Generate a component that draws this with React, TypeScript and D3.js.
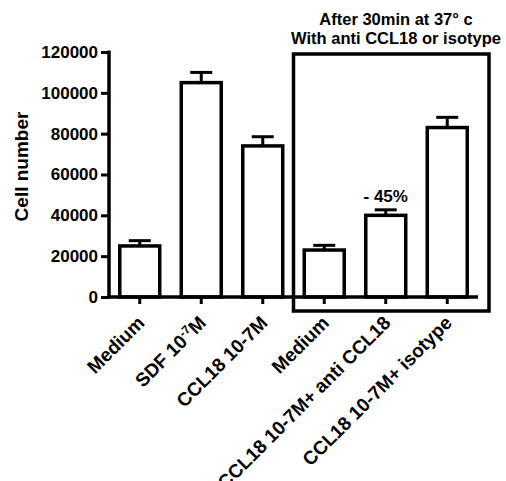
import React, { useEffect, useRef } from "react";
import * as d3 from "d3";

const categories = [
  "Medium",
  "SDF",
  "CCL18 10-7M",
  "Medium ",
  "CCL18 10-7M+ anti CCL18",
  "CCL18 10-7M+ isotype",
];
const cellNumber = [25000, 105000, 74000, 23000, 40000, 83000];
const cellError = [2600, 5000, 4500, 2300, 2700, 5000];
const yTicks = [0, 20000, 40000, 60000, 80000, 100000, 120000];

const FONT = "'Liberation Sans', Arial, sans-serif";

const App = () => {
  const ref = useRef<SVGSVGElement>(null);

  useEffect(() => {
    const svg: any = d3.select(ref.current);
    svg.selectAll("*").remove();

    const left = 109;
    const right = 478;
    const bottom = 297;
    const top = 52;

    const x = d3.scaleBand().domain(categories).range([left, right]).paddingInner(0.35).paddingOuter(0.175);
    const y = d3.scaleLinear().domain([0, 120000]).range([bottom, top]);

    // bars
    svg
      .selectAll(".bar")
      .data(cellNumber)
      .enter()
      .append("rect")
      .attr("x", (d: number, i: number) => x(categories[i]))
      .attr("y", (d: number) => y(d))
      .attr("width", x.bandwidth())
      .attr("height", (d: number) => y(0) - y(d))
      .attr("fill", "#fff")
      .attr("stroke", "#000")
      .attr("stroke-width", 3.5);

    // error bars
    const cap = 11;
    const eb = svg.selectAll(".err").data(cellNumber).enter().append("g");
    eb.append("line")
      .attr("x1", (d: number, i: number) => x(categories[i])! + x.bandwidth() / 2)
      .attr("x2", (d: number, i: number) => x(categories[i])! + x.bandwidth() / 2)
      .attr("y1", (d: number) => y(d))
      .attr("y2", (d: number, i: number) => y(d + cellError[i]))
      .attr("stroke", "#000")
      .attr("stroke-width", 3);
    eb.append("line")
      .attr("x1", (d: number, i: number) => x(categories[i])! + x.bandwidth() / 2 - cap)
      .attr("x2", (d: number, i: number) => x(categories[i])! + x.bandwidth() / 2 + cap)
      .attr("y1", (d: number, i: number) => y(d + cellError[i]))
      .attr("y2", (d: number, i: number) => y(d + cellError[i]))
      .attr("stroke", "#000")
      .attr("stroke-width", 3);

    // y axis
    const yAxis = svg
      .append("g")
      .attr("transform", `translate(${left},0)`)
      .call(d3.axisLeft(y).tickValues(yTicks).tickSize(8).tickSizeOuter(0).tickFormat(d3.format("d")));
    yAxis.select(".domain").attr("stroke-width", 3.5).attr("d", `M0,${bottom + 1.5}V${top - 1.5}`);
    yAxis.selectAll(".tick line").attr("stroke-width", 3);
    yAxis
      .selectAll(".tick text")
      .attr("x", -11)
      .style("font-family", FONT)
      .style("font-weight", "bold")
      .style("font-size", "17px")
      .attr("fill", "#000");

    // x axis
    const xAxis = svg
      .append("g")
      .attr("transform", `translate(0,${bottom})`)
      .call(d3.axisBottom(x).tickSize(7).tickSizeOuter(0).tickFormat(() => ""));
    xAxis.select(".domain").attr("stroke-width", 3.5).attr("d", `M${left - 1.5},0H${right}`);
    xAxis.selectAll(".tick line").attr("stroke-width", 3);

    // x labels, rotated
    const labels = svg
      .selectAll(".xlab")
      .data(categories)
      .enter()
      .append("text")
      .attr("transform", (d: string) => `translate(${x(d)! + x.bandwidth() / 2 + 6},${bottom + 27}) rotate(-45)`)
      .attr("text-anchor", "end")
      .style("font-family", FONT)
      .style("font-weight", "bold")
      .style("font-size", "19px");
    labels.each(function (this: SVGTextElement, d: string) {
      const t = d3.select(this);
      if (d === "SDF") {
        t.append("tspan").text("SDF 10");
        t.append("tspan").attr("baseline-shift", "super").style("font-size", "12px").text("-7");
        t.append("tspan").text("M");
      } else {
        t.text(d.trim());
      }
    });

    // y label
    svg
      .append("text")
      .attr("transform", `translate(28,${(top + bottom) / 2 - 8}) rotate(-90)`)
      .attr("text-anchor", "middle")
      .style("font-family", FONT)
      .style("font-weight", "bold")
      .style("font-size", "19px")
      .text("Cell number");

    // box around the treatment group
    const boxLeft = x(categories[3])! - (x.step() - x.bandwidth()) / 2;
    svg
      .append("rect")
      .attr("x", boxLeft)
      .attr("y", top + 2)
      .attr("width", right + 11 - boxLeft)
      .attr("height", bottom + 14 - top - 2)
      .attr("fill", "none")
      .attr("stroke", "#000")
      .attr("stroke-width", 3.5);

    const cx = 396;
    svg
      .append("text")
      .attr("x", cx)
      .attr("y", 25)
      .attr("text-anchor", "middle")
      .style("font-family", FONT)
      .style("font-weight", "bold")
      .style("font-size", "16.5px")
      .text("After 30min at 37° c");
    svg
      .append("text")
      .attr("x", cx)
      .attr("y", 44)
      .attr("text-anchor", "middle")
      .style("font-family", FONT)
      .style("font-weight", "bold")
      .style("font-size", "16.5px")
      .text("With anti CCL18 or isotype");

    // reduction annotation
    svg
      .append("text")
      .attr("x", x(categories[4])! + x.bandwidth() / 2)
      .attr("y", y(cellNumber[4] + cellError[4]) - 8)
      .attr("text-anchor", "middle")
      .style("font-family", FONT)
      .style("font-weight", "bold")
      .style("font-size", "17px")
      .text("- 45%");
  }, []);

  return (
    <svg
      ref={ref}
      width={506}
      height={481}
      style={{ position: "absolute", left: 0, top: 0, background: "#fff" }}
    />
  );
};

export default App;
